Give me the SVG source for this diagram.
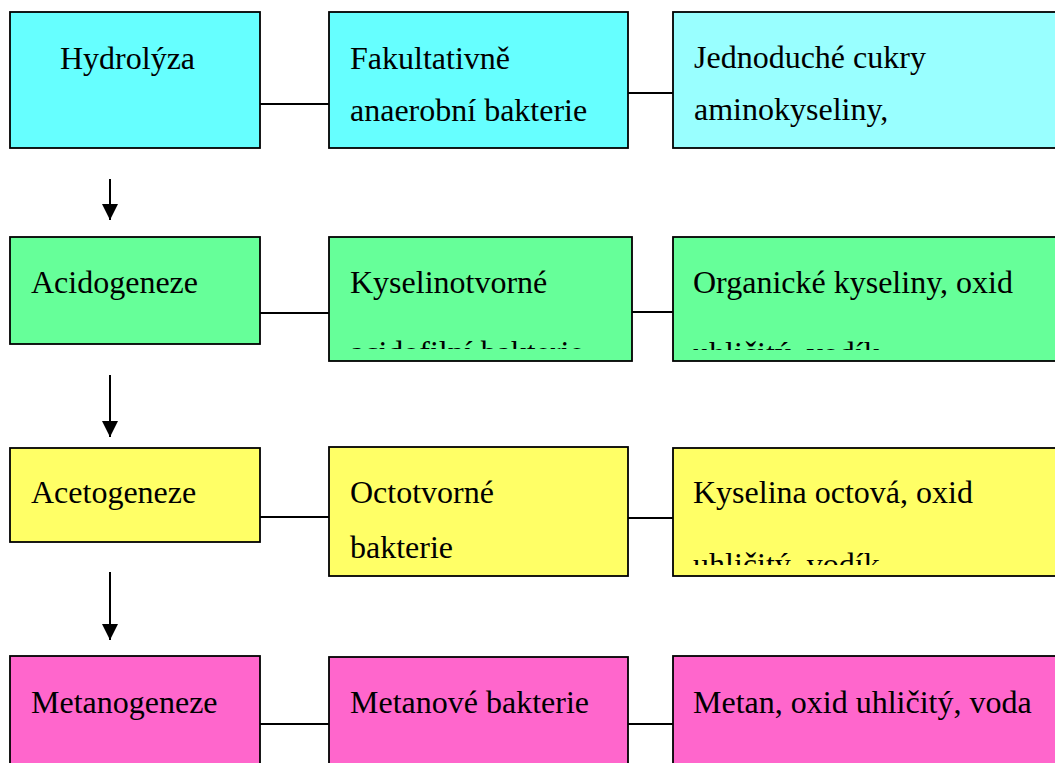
<svg xmlns="http://www.w3.org/2000/svg" width="1055" height="763" viewBox="0 0 1055 763">
<style>
.box{stroke:#000;stroke-width:1.8}
.cy{fill:#66FFFF}.cy2{fill:#99FFFF}.gr{fill:#66FF99}.ye{fill:#FFFF66}.pk{fill:#FF66CC}
text{font-family:"Liberation Serif","Times New Roman",serif;font-size:32px;fill:#000}
.conn line{stroke:#000;stroke-width:2}
</style>
<defs>
<marker id="ah" markerUnits="userSpaceOnUse" markerWidth="18" markerHeight="18" refX="16" refY="9" orient="auto">
<path d="M0,1 L16,9 L0,17 z" fill="#000"/>
</marker>
<clipPath id="c2b"><rect x="329" y="237" width="303" height="112"/></clipPath>
<clipPath id="c2c"><rect x="673" y="237" width="390" height="113"/></clipPath>
<clipPath id="c3c"><rect x="673" y="448" width="390" height="117"/></clipPath>
</defs>
<g class="conn">
<line x1="260" y1="104" x2="329" y2="104"/>
<line x1="628" y1="93" x2="673" y2="93"/>
<line x1="260" y1="313" x2="329" y2="313"/>
<line x1="632" y1="312" x2="673" y2="312"/>
<line x1="260" y1="517" x2="329" y2="517"/>
<line x1="628" y1="518" x2="673" y2="518"/>
<line x1="260" y1="724" x2="329" y2="724"/>
<line x1="628" y1="724" x2="673" y2="724"/>
<line x1="110" y1="179" x2="110" y2="220" marker-end="url(#ah)"/>
<line x1="110" y1="375" x2="110" y2="437" marker-end="url(#ah)"/>
<line x1="110" y1="572" x2="110" y2="640" marker-end="url(#ah)"/>
</g>
<g id="hydrolyza"><rect class="box cy" x="10" y="12" width="250" height="136"/><text x="60" y="69">Hydrolýza</text></g>
<g id="fakultativne"><rect class="box cy" x="329" y="12" width="299" height="136"/><text x="350" y="69">Fakultativně</text><text x="350" y="121">anaerobní bakterie</text></g>
<g id="cukry"><rect class="box cy2" x="673" y="12" width="392" height="136"/><text x="694" y="68">Jednoduché cukry</text><text x="694" y="120">aminokyseliny,</text></g>
<g id="acidogeneze"><rect class="box gr" x="10" y="237" width="250" height="107"/><text x="31" y="293">Acidogeneze</text></g>
<g id="kyselinotvorne"><rect class="box gr" x="329" y="237" width="303" height="124"/><text x="350" y="293">Kyselinotvorné</text><text x="350" y="363" clip-path="url(#c2b)">acidofilní bakterie</text></g>
<g id="organicke"><rect class="box gr" x="673" y="237" width="392" height="124"/><text x="693" y="293">Organické kyseliny, oxid</text><text x="693" y="364" clip-path="url(#c2c)">uhličitý, vodík</text></g>
<g id="acetogeneze"><rect class="box ye" x="10" y="448" width="250" height="94"/><text x="31" y="503">Acetogeneze</text></g>
<g id="octotvorne"><rect class="box ye" x="329" y="447" width="299" height="129"/><text x="350" y="503">Octotvorné</text><text x="350" y="558">bakterie</text></g>
<g id="octova"><rect class="box ye" x="673" y="448" width="392" height="128"/><text x="693" y="503">Kyselina octová, oxid</text><text x="693" y="575" clip-path="url(#c3c)">uhličitý, vodík</text></g>
<g id="metanogeneze"><rect class="box pk" x="10" y="656" width="250" height="120"/><text x="31" y="713">Metanogeneze</text></g>
<g id="metanove"><rect class="box pk" x="329" y="657" width="299" height="120"/><text x="350" y="713">Metanové bakterie</text></g>
<g id="metan"><rect class="box pk" x="673" y="656" width="392" height="120"/><text x="693" y="713">Metan, oxid uhličitý, voda</text></g>
</svg>
